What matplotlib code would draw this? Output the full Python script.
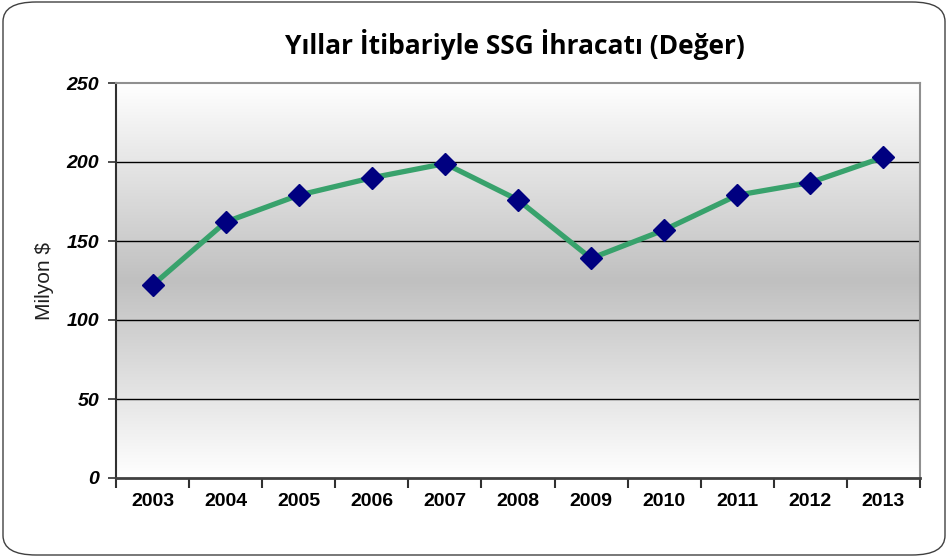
import matplotlib
matplotlib.use("Agg")
import matplotlib.pyplot as plt
import numpy as np
from matplotlib.patches import FancyBboxPatch
from matplotlib.colors import LinearSegmentedColormap

years = ["2003", "2004", "2005", "2006", "2007", "2008", "2009", "2010", "2011", "2012", "2013"]
values = [122, 162, 179, 190, 199, 176, 139, 157, 179, 187, 203]
yticks = [0, 50, 100, 150, 200, 250]

fig = plt.figure(figsize=(9.47, 5.57), dpi=100)
W, H = 947, 557

# outer rounded frame
frame = FancyBboxPatch((3 / W, 2 / H), 942 / W, 553 / H,
                       boxstyle="round,pad=0,rounding_size=0.035",
                       transform=fig.transFigure, facecolor="white",
                       edgecolor="#404040", linewidth=1.0, zorder=-5)
fig.patches.append(frame)

ax = fig.add_axes([116 / W, 1 - 478 / H, (920 - 116) / W, (478 - 83) / H])
ax.set_zorder(2)
n = len(years)
x = np.arange(n)
ax.set_xlim(-0.5, n - 0.5)
ax.set_ylim(0, 250)

# vertical gradient background: white top/bottom, gray middle
cmap = LinearSegmentedColormap.from_list("g", ["#ffffff", "#c0c0c0", "#ffffff"])
grad = np.linspace(0, 1, 256).reshape(-1, 1)
ax.imshow(grad, extent=(-0.5, n - 0.5, 0, 250), aspect="auto", cmap=cmap,
          origin="lower", zorder=0, interpolation="bicubic")

for yv in yticks[1:-1]:
    ax.axhline(yv, color="black", linewidth=1.0, zorder=1)

ax.plot(x, values, color="#38a26c", linewidth=3.8, zorder=2, solid_capstyle="round")
ax.plot(x, values, linestyle="none", marker="D", markersize=11.5,
        markerfacecolor="#000080", markeredgecolor="#000080", zorder=3)

for s in ["top", "right"]:
    ax.spines[s].set_color("#909090")
    ax.spines[s].set_linewidth(1.5)
ax.spines["left"].set_color("#303030")
ax.spines["left"].set_linewidth(1.5)
ax.spines["bottom"].set_color("#404040")
ax.spines["bottom"].set_linewidth(2)

ax.set_yticks(yticks)
ax.set_yticklabels([str(v) for v in yticks], fontfamily="Liberation Sans",
                   fontweight="bold", fontstyle="italic", fontsize=14)
ax.tick_params(axis="y", length=6, width=1.2, color="#303030", pad=6)

ax.set_xticks(np.arange(-0.5, n, 1.0), minor=False)
ax.set_xticklabels([])
ax.tick_params(axis="x", length=7, width=1.5, color="#303030", direction="out")
ax.set_xticks(x, minor=True)
ax.set_xticklabels(years, minor=True, fontfamily="Liberation Sans",
                   fontweight="bold", fontsize=14)
ax.tick_params(axis="x", which="minor", length=0, pad=11)

ax.set_ylabel("Milyon $", fontfamily="Liberation Sans", fontsize=15,
              color="#202020")
ax.yaxis.set_label_coords((54 - 116) / (920 - 116), 0.5)

fig.text(515 / W, 1 - 45 / H, "Yıllar İtibariyle SSG İhracatı (Değer)",
         ha="center", va="center", fontfamily="Open Sans", fontweight="bold",
         fontsize=19)

fig.savefig("out.png", dpi=100)
